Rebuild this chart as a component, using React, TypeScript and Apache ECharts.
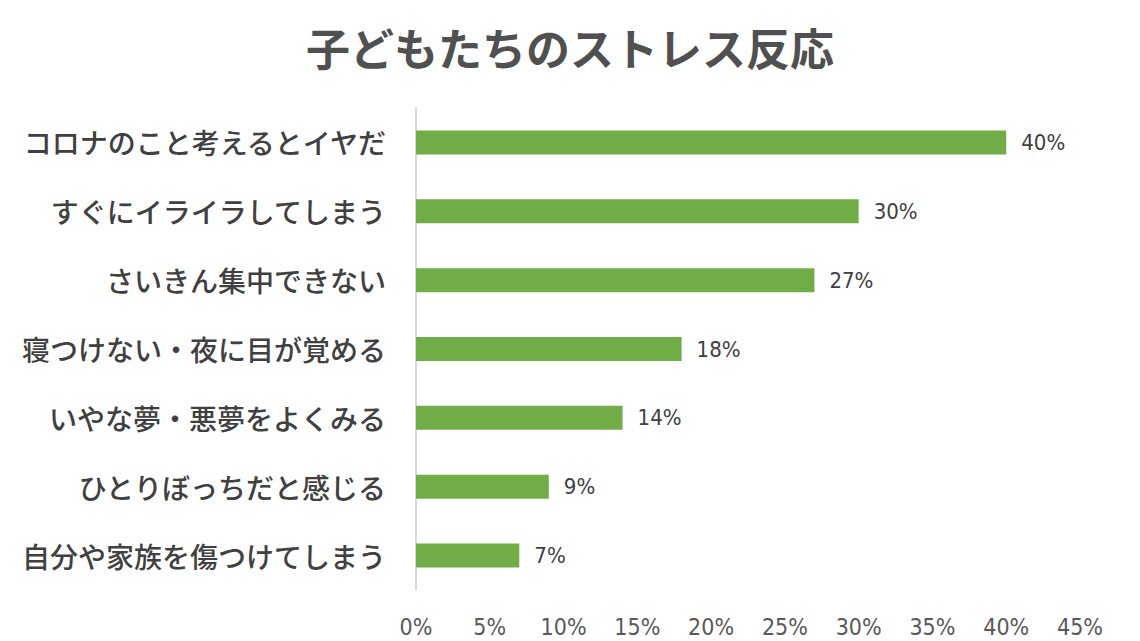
import React, { useEffect, useRef } from "react";
import * as echarts from "echarts";

const titleText = "子どもたちのストレス反応";
const categories = [
  "コロナのこと考えるとイヤだ",
  "すぐにイライラしてしまう",
  "さいきん集中できない",
  "寝つけない・夜に目が覚める",
  "いやな夢・悪夢をよくみる",
  "ひとりぼっちだと感じる",
  "自分や家族を傷つけてしまう",
];
const values = [40, 30, 27, 18, 14, 9, 7];
const xMax = 45;
const xInterval = 5;

export default function App() {
  const ref = useRef<HTMLDivElement>(null);
  useEffect(() => {
    if (!ref.current) return;
    const chart = echarts.init(ref.current, null, { renderer: "svg" });
    chart.setOption({
      animation: false,
      backgroundColor: "#ffffff",
      title: {
        text: titleText,
        left: "center",
        top: 20,
        textStyle: {
          fontFamily: "Noto Sans CJK JP",
          fontWeight: "bold",
          fontSize: 44,
          color: "#505050",
        },
      },
      grid: {
        left: 416,
        top: 108,
        width: 664,
        height: 482,
        containLabel: false,
        outerBoundsMode: "none",
      },
      xAxis: {
        type: "value",
        min: 0,
        max: xMax,
        interval: xInterval,
        axisLine: { show: false },
        axisTick: { show: false },
        splitLine: { show: false },
        axisLabel: {
          formatter: "{value}%",
          margin: 25,
          fontSize: 23,
          color: "#595959",
          fontFamily: "Liberation Sans Narrow, DejaVu Sans Condensed, sans-serif",
        },
      },
      yAxis: {
        type: "category",
        data: categories,
        inverse: true,
        axisLine: { show: true, lineStyle: { color: "#d9d9d9", width: 2 } },
        axisTick: { show: false },
        axisLabel: {
          margin: 30,
          fontSize: 28,
          color: "#404040",
          fontFamily: "Noto Sans CJK JP",
          fontWeight: 500,
        },
      },
      series: [
        {
          type: "bar",
          data: values,
          barWidth: 24,
          itemStyle: { color: "#70ad47" },
          label: {
            show: true,
            position: "right",
            distance: 15,
            formatter: "{c}%",
            fontSize: 22,
            color: "#404040",
            fontFamily: "Liberation Sans Narrow, DejaVu Sans Condensed, sans-serif",
          },
        },
      ],
    });
    return () => chart.dispose();
  }, []);
  return (
    <div
      ref={ref}
      style={{ position: "fixed", left: 0, top: 0, width: 1140, height: 641 }}
    />
  );
}
